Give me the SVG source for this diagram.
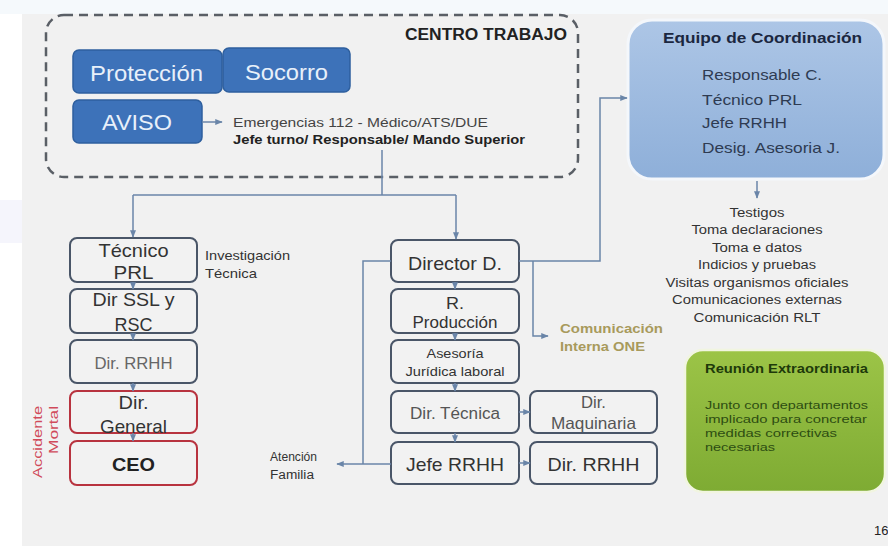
<svg xmlns="http://www.w3.org/2000/svg" width="888" height="549" viewBox="0 0 888 549">
<defs>
<style>
.t{font-family:"Liberation Sans",Arial,sans-serif;fill:#333}
.m{text-anchor:middle}
.b{font-weight:bold}
.box{fill:#f2f2f2;stroke:#4a5668;stroke-width:2}
.red{fill:#f2f2f2;stroke:#b8333f;stroke-width:2}
.blue{fill:#3d72b9;stroke:#2e5f9e;stroke-width:1.5}
.wt{font-family:"Liberation Sans",Arial,sans-serif;fill:#e8f0fa;font-size:22px;text-anchor:middle}
.c{stroke:#6a85a8;stroke-width:1.5;fill:none}
</style>
<marker id="ah" viewBox="0 0 10 10" refX="9" refY="5" markerWidth="5" markerHeight="5" orient="auto"><path d="M0,1 L10,5 L0,9 z" fill="#6a85a8"/></marker>
<linearGradient id="gb" x1="0" y1="0" x2="0" y2="1"><stop offset="0" stop-color="#adc6e6"/><stop offset="1" stop-color="#8eafd9"/></linearGradient>
<linearGradient id="gg" x1="0" y1="0" x2="0" y2="1"><stop offset="0" stop-color="#9cc447"/><stop offset="1" stop-color="#7eab33"/></linearGradient>
</defs>
<rect width="888" height="549" fill="#ffffff"/>
<rect x="0" y="0" width="888" height="14" fill="#f5f9fc"/>
<rect x="0" y="200" width="22" height="43" fill="#f5f5fc"/>
<rect x="22" y="14" width="866" height="532" fill="#f1f1f1"/>

<g id="centro">
<rect x="46" y="15" width="532" height="162" rx="18" fill="none" stroke="#5a5f66" stroke-width="2.5" stroke-dasharray="9,6"/>
<text class="t b" x="405" y="40" font-size="16" textLength="162" lengthAdjust="spacingAndGlyphs" style="fill:#222">CENTRO TRABAJO</text>
</g>
<g id="proteccion"><rect class="blue" x="73" y="50" width="149" height="43" rx="6"/><text class="wt" x="146.5" y="80.5" textLength="113" lengthAdjust="spacingAndGlyphs">Protección</text></g>
<g id="socorro"><rect class="blue" x="223" y="48" width="127" height="44" rx="6"/><text class="wt" x="286.5" y="79.5" textLength="83" lengthAdjust="spacingAndGlyphs">Socorro</text></g>
<g id="aviso"><rect class="blue" x="73" y="100" width="129" height="43" rx="6"/><text class="wt" x="137" y="129.5" textLength="70" lengthAdjust="spacingAndGlyphs">AVISO</text></g>
<g id="emergencias">
<text class="t" x="233" y="127" font-size="12.5" textLength="255" lengthAdjust="spacingAndGlyphs" style="fill:#444">Emergencias 112 -  Médico/ATS/DUE</text>
<text class="t b" x="233" y="143.5" font-size="12.5" textLength="292" lengthAdjust="spacingAndGlyphs" style="fill:#222">Jefe turno/ Responsable/ Mando Superior</text>
</g>

<g id="equipo">
<rect x="628" y="20" width="256" height="159" rx="24" fill="url(#gb)" stroke="#f4f7fb" stroke-width="3"/>
<text class="t b" x="663" y="43" font-size="15" textLength="199" lengthAdjust="spacingAndGlyphs" style="fill:#1b2740">Equipo de Coordinación</text>
<text class="t" x="702" y="80" font-size="15" textLength="120" lengthAdjust="spacingAndGlyphs" style="fill:#2e3b52">Responsable C.</text>
<text class="t" x="702" y="105" font-size="15" textLength="100" lengthAdjust="spacingAndGlyphs" style="fill:#2e3b52">Técnico PRL</text>
<text class="t" x="702" y="128" font-size="15" textLength="85" lengthAdjust="spacingAndGlyphs" style="fill:#2e3b52">Jefe RRHH</text>
<text class="t" x="702" y="153" font-size="15" textLength="138" lengthAdjust="spacingAndGlyphs" style="fill:#2e3b52">Desig. Asesoria J.</text>
</g>
<g id="tareas" font-size="12.5">
<text class="t m" x="757" y="216.5" textLength="55" lengthAdjust="spacingAndGlyphs">Testigos</text>
<text class="t m" x="757" y="234" textLength="131" lengthAdjust="spacingAndGlyphs">Toma declaraciones</text>
<text class="t m" x="757" y="251.5" textLength="90" lengthAdjust="spacingAndGlyphs">Toma e datos</text>
<text class="t m" x="757" y="269" textLength="118" lengthAdjust="spacingAndGlyphs">Indicios y pruebas</text>
<text class="t m" x="757" y="286.5" textLength="183" lengthAdjust="spacingAndGlyphs">Visitas organismos oficiales</text>
<text class="t m" x="757" y="304" textLength="170" lengthAdjust="spacingAndGlyphs">Comunicaciones externas</text>
<text class="t m" x="757" y="321.5" textLength="127" lengthAdjust="spacingAndGlyphs">Comunicación RLT</text>
</g>

<g id="tecnico-prl"><rect class="box" x="70" y="238" width="127" height="44" rx="7"/>
<text class="t m" x="133.5" y="256.5" font-size="19" textLength="70" lengthAdjust="spacingAndGlyphs">Técnico</text>
<text class="t m" x="133.5" y="279" font-size="19" textLength="40" lengthAdjust="spacingAndGlyphs">PRL</text></g>
<g id="investigacion">
<text class="t" x="205" y="259.5" font-size="13" textLength="85" lengthAdjust="spacingAndGlyphs">Investigación</text>
<text class="t" x="205" y="277.5" font-size="13" textLength="52" lengthAdjust="spacingAndGlyphs">Técnica</text></g>
<g id="dir-ssl"><rect class="box" x="70" y="289" width="127" height="44" rx="7"/>
<text class="t m" x="133.5" y="305.5" font-size="19" textLength="82" lengthAdjust="spacingAndGlyphs">Dir SSL y</text>
<text class="t m" x="133.5" y="330.5" font-size="19" textLength="38" lengthAdjust="spacingAndGlyphs">RSC</text></g>
<g id="dir-rrhh-1"><rect class="box" x="70" y="340" width="127" height="43" rx="7"/>
<text class="t m" x="133.5" y="369" font-size="16.5" textLength="78" lengthAdjust="spacingAndGlyphs" style="fill:#666">Dir. RRHH</text></g>
<g id="dir-general"><rect class="red" x="70" y="391" width="127" height="42" rx="7"/>
<text class="t m" x="133.5" y="408.5" font-size="18.5" textLength="30" lengthAdjust="spacingAndGlyphs">Dir.</text>
<text class="t m" x="133.5" y="433" font-size="18.5" textLength="67" lengthAdjust="spacingAndGlyphs">General</text></g>
<g id="ceo"><rect class="red" x="70" y="441" width="127" height="44" rx="7"/>
<text class="t m b" x="133.5" y="470.5" font-size="19" textLength="43" lengthAdjust="spacingAndGlyphs" style="fill:#222">CEO</text></g>
<g id="accidente">
<text class="t" transform="translate(42,406) rotate(-90)" font-size="13" text-anchor="end" textLength="72" lengthAdjust="spacingAndGlyphs" style="fill:#d04a5a">Accidente</text>
<text class="t" transform="translate(57.5,406) rotate(-90)" font-size="13" text-anchor="end" textLength="48" lengthAdjust="spacingAndGlyphs" style="fill:#d04a5a">Mortal</text>
</g>

<g id="director-d"><rect class="box" x="391" y="240" width="128" height="42" rx="7"/>
<text class="t m" x="455" y="269.5" font-size="19" textLength="94" lengthAdjust="spacingAndGlyphs">Director D.</text></g>
<g id="r-produccion"><rect class="box" x="391" y="289" width="128" height="44" rx="7"/>
<text class="t m" x="455" y="309" font-size="16.5" textLength="18" lengthAdjust="spacingAndGlyphs">R.</text>
<text class="t m" x="455" y="328" font-size="16.5" textLength="85" lengthAdjust="spacingAndGlyphs">Producción</text></g>
<g id="asesoria"><rect class="box" x="391" y="340" width="128" height="43" rx="7"/>
<text class="t m" x="455" y="357.5" font-size="13" textLength="57" lengthAdjust="spacingAndGlyphs">Asesoría</text>
<text class="t m" x="455" y="375.5" font-size="13" textLength="99" lengthAdjust="spacingAndGlyphs">Jurídica laboral</text></g>
<g id="dir-tecnica"><rect class="box" x="391" y="391" width="128" height="42" rx="7"/>
<text class="t m" x="455" y="418.5" font-size="16" textLength="90" lengthAdjust="spacingAndGlyphs" style="fill:#555">Dir. Técnica</text></g>
<g id="jefe-rrhh"><rect class="box" x="391" y="442" width="128" height="42" rx="7"/>
<text class="t m" x="455" y="470.5" font-size="19" textLength="98" lengthAdjust="spacingAndGlyphs">Jefe RRHH</text></g>
<g id="dir-maquinaria"><rect class="box" x="530" y="391" width="127" height="42" rx="7"/>
<text class="t m" x="593.5" y="408" font-size="16.5" textLength="25" lengthAdjust="spacingAndGlyphs" style="fill:#555">Dir.</text>
<text class="t m" x="593.5" y="429" font-size="16.5" textLength="85" lengthAdjust="spacingAndGlyphs" style="fill:#555">Maquinaria</text></g>
<g id="dir-rrhh-2"><rect class="box" x="530" y="442" width="127" height="42" rx="7"/>
<text class="t m" x="593.5" y="470.5" font-size="19" textLength="92" lengthAdjust="spacingAndGlyphs">Dir. RRHH</text></g>
<g id="atencion">
<text class="t" x="270" y="461" font-size="12" textLength="47" lengthAdjust="spacingAndGlyphs">Atención</text>
<text class="t" x="270" y="479" font-size="12" textLength="44" lengthAdjust="spacingAndGlyphs">Familia</text></g>
<g id="comunicacion">
<text class="t b" x="560" y="332.5" font-size="12.5" textLength="103" lengthAdjust="spacingAndGlyphs" style="fill:#a89a5c">Comunicación</text>
<text class="t b" x="560" y="350.5" font-size="12.5" textLength="85" lengthAdjust="spacingAndGlyphs" style="fill:#a89a5c">Interna ONE</text></g>

<g id="reunion">
<rect x="685" y="350" width="200" height="142" rx="18" fill="url(#gg)" stroke="#f1f5e0" stroke-width="2.5"/>
<text class="t b" x="705" y="373" font-size="12" textLength="163" lengthAdjust="spacingAndGlyphs" style="fill:#1e3a0a">Reunión Extraordinaria</text>
<text class="t" x="705" y="409" font-size="11.5" textLength="163" lengthAdjust="spacingAndGlyphs" style="fill:#2d4d12">Junto con departamentos</text>
<text class="t" x="705" y="423" font-size="11.5" textLength="162" lengthAdjust="spacingAndGlyphs" style="fill:#2d4d12">implicado  para concretar</text>
<text class="t" x="705" y="437" font-size="11.5" textLength="132" lengthAdjust="spacingAndGlyphs" style="fill:#2d4d12">medidas correctivas</text>
<text class="t" x="705" y="451" font-size="11.5" textLength="70" lengthAdjust="spacingAndGlyphs" style="fill:#2d4d12">necesarias</text>
</g>
<text class="t" x="874" y="535" font-size="13" style="fill:#222">16</text>

<g id="connectors">
<line class="c" x1="202" y1="122" x2="222" y2="122" marker-end="url(#ah)"/>
<line class="c" x1="382" y1="150" x2="382" y2="195"/>
<line class="c" x1="133" y1="195" x2="456" y2="195"/>
<line class="c" x1="133" y1="195" x2="133" y2="237" marker-end="url(#ah)"/>
<line class="c" x1="456" y1="195" x2="456" y2="239" marker-end="url(#ah)"/>
<line class="c" x1="133" y1="282" x2="133" y2="289" marker-end="url(#ah)"/>
<line class="c" x1="133" y1="333" x2="133" y2="340" marker-end="url(#ah)"/>
<line class="c" x1="133" y1="383" x2="133" y2="391" marker-end="url(#ah)"/>
<line class="c" x1="133" y1="433" x2="133" y2="441" marker-end="url(#ah)"/>
<line class="c" x1="455" y1="282" x2="455" y2="289" marker-end="url(#ah)"/>
<line class="c" x1="455" y1="333" x2="455" y2="340" marker-end="url(#ah)"/>
<line class="c" x1="455" y1="383" x2="455" y2="391" marker-end="url(#ah)"/>
<line class="c" x1="455" y1="433" x2="455" y2="442" marker-end="url(#ah)"/>
<line class="c" x1="519" y1="412" x2="530" y2="412" marker-end="url(#ah)"/>
<line class="c" x1="519" y1="463" x2="530" y2="463" marker-end="url(#ah)"/>
<polyline class="c" points="519,261 600,261 600,98 627,98" marker-end="url(#ah)"/>
<polyline class="c" points="533,261 533,336 548,336" marker-end="url(#ah)"/>
<polyline class="c" points="391,261 363,261 363,464"/>
<polyline class="c" points="391,464 337,464" marker-end="url(#ah)"/>
<line class="c" x1="757" y1="181" x2="757" y2="198" marker-end="url(#ah)"/>
</g>
</svg>
